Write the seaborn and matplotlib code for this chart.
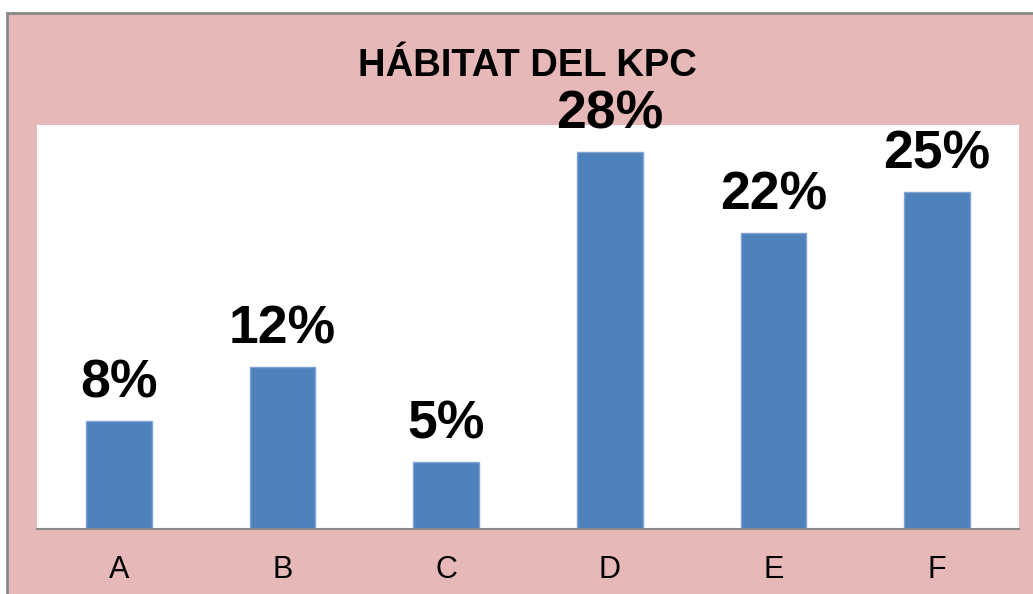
import seaborn as sns
import matplotlib.pyplot as plt
import pandas as pd
from matplotlib.patches import Rectangle

sns.set_theme(style="white")
plt.rcParams['font.family'] = ['Liberation Sans', 'DejaVu Sans']

categories = ["A", "B", "C", "D", "E", "F"]
values = [8, 12, 5, 28, 22, 25]
labels = ["8%", "12%", "5%", "28%", "22%", "25%"]

df = pd.DataFrame({"cat": categories, "val": values})

fig = plt.figure(figsize=(10.33, 5.94), dpi=100)
fig.patch.set_facecolor("white")

# pink panel with gray border on left/top
fig.patches.append(Rectangle((7 / 1033, -0.05), 1.1, 1 - 13 / 594 + 0.05,
                             transform=fig.transFigure, facecolor="#E6B8B7",
                             edgecolor="#888888", linewidth=2, zorder=-1))

ax = fig.add_axes([37 / 1033, 65 / 594, 982 / 1033, 404 / 594])
ax.set_zorder(2)
ax.set_facecolor("white")
sns.barplot(data=df, x="cat", y="val", color="#4F81BD", width=0.4,
            edgecolor="#7FA3D3", linewidth=1, saturation=1, ax=ax)
ax.set_xlim(-0.5, 5.5)
ax.set_ylim(0, 30)

for i, (v, lab) in enumerate(zip(values, labels)):
    ax.annotate(lab, (i, v), xytext=(0, 9), textcoords="offset points",
                ha="center", va="bottom", fontsize=38.5, fontweight="bold",
                color="black", annotation_clip=False)

for s in ["top", "right", "left"]:
    ax.spines[s].set_visible(False)
ax.spines["bottom"].set_color("#898989")
ax.spines["bottom"].set_linewidth(1.5)
ax.set_yticks([])
ax.set_xlabel("")
ax.set_ylabel("")
ax.tick_params(axis="x", length=0, labelsize=22, pad=19, colors="black")

fig.text(0.511, 1 - 66 / 594, "HÁBITAT DEL KPC", ha="center", va="center",
         fontsize=27.5, fontweight="bold", color="black", zorder=3)

fig.savefig("out.png", dpi=100)
